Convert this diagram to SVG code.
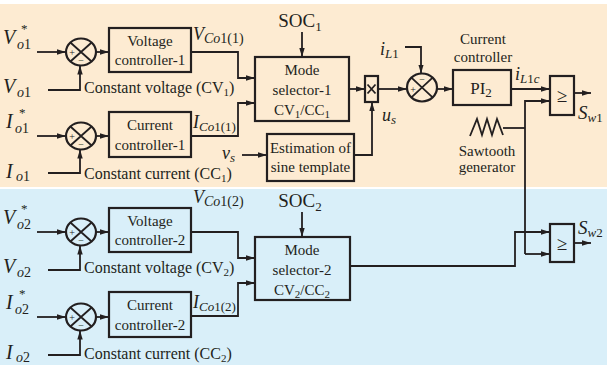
<svg xmlns="http://www.w3.org/2000/svg" width="607" height="365" viewBox="0 0 607 365">
<defs>
<marker id="ah" viewBox="0 0 10 6" refX="10" refY="3" markerWidth="9" markerHeight="6" markerUnits="userSpaceOnUse" orient="auto"><path d="M0,0 L10,3 L0,6 z" fill="#231f20"/></marker>
</defs>
<style>
.bx{fill:none;stroke:#231f20;stroke-width:2.2}
.ln{fill:none;stroke:#231f20;stroke-width:1.8}
.ar{marker-end:url(#ah)}
text{font-family:"Liberation Serif","Times New Roman",serif;fill:#231f20}
.t{font-size:16px}
.tc{font-size:15px;text-anchor:middle}
.v{font-size:20px}
.i{font-style:italic}
.sg{font-size:10px;text-anchor:middle}
.cmp{font-size:19px;text-anchor:middle}
</style>
<rect x="0" y="0" width="607" height="365" fill="#ffffff"/>
<rect x="0" y="4" width="607" height="183" fill="#fdebd2"/>
<rect x="0" y="189" width="607" height="176" fill="#d9eff9"/>

<g id="connectors">
<path class="ln ar" d="M37,52 H66"/>
<path class="ln ar" d="M48,90 H80 V65.5"/>
<path class="ln ar" d="M96,52 H109"/>
<path class="ln ar" d="M37,136 H66"/>
<path class="ln ar" d="M48,173 H80 V149.5"/>
<path class="ln ar" d="M96,136 H109"/>
<path class="ln ar" d="M191,52 H238 V78 H255"/>
<path class="ln ar" d="M191,136 H238 V103 H255"/>
<path class="ln ar" d="M302,32 V57"/>
<path class="ln ar" d="M349,89 H365"/>
<path class="ln ar" d="M242,155 H267"/>
<path class="ln ar" d="M354,155 H372 V102"/>
<path class="ln ar" d="M378,89 H407"/>
<path class="ln ar" d="M405,47 H421 V73.5"/>
<path class="ln ar" d="M437,89 H453"/>
<path class="ln ar" d="M511,89 H550"/>
<path class="ln ar" d="M525,254 V101 H550"/>
<path class="ln" d="M503,128 H525"/>
<path class="ln ar" d="M574,93 H591"/>
<path class="ln ar" d="M37,232 H66"/>
<path class="ln ar" d="M48,270 H80 V245.5"/>
<path class="ln ar" d="M96,232 H109"/>
<path class="ln ar" d="M37,317 H66"/>
<path class="ln ar" d="M48,355 H80 V330.5"/>
<path class="ln ar" d="M96,317 H109"/>
<path class="ln ar" d="M191,232 H238 V258 H255"/>
<path class="ln ar" d="M191,316 H238 V283 H255"/>
<path class="ln ar" d="M302,212 V237"/>
<path class="ln ar" d="M350,266 H515 V232 H550"/>
<path class="ln ar" d="M525,254 H550"/>
<path class="ln ar" d="M574,243 H591"/>
</g>

<g id="sum-v1">
<ellipse cx="81" cy="52" rx="15" ry="13.5" class="bx"/>
<path class="ln" d="M70.4,42.5 L91.6,61.5 M70.4,61.5 L91.6,42.5"/>
<text x="72" y="55.5" class="sg">+</text><text x="81" y="64" class="sg">−</text>
</g>
<g id="sum-i1">
<ellipse cx="81" cy="136" rx="15" ry="13.5" class="bx"/>
<path class="ln" d="M70.4,126.5 L91.6,145.5 M70.4,145.5 L91.6,126.5"/>
<text x="72" y="139.5" class="sg">+</text><text x="81" y="148" class="sg">−</text>
</g>
<g id="sum-v2">
<ellipse cx="81" cy="232" rx="15" ry="13.5" class="bx"/>
<path class="ln" d="M70.4,222.5 L91.6,241.5 M70.4,241.5 L91.6,222.5"/>
<text x="72" y="235.5" class="sg">+</text><text x="81" y="244" class="sg">−</text>
</g>
<g id="sum-i2">
<ellipse cx="81" cy="317" rx="15" ry="13.5" class="bx"/>
<path class="ln" d="M70.4,307.5 L91.6,326.5 M70.4,326.5 L91.6,307.5"/>
<text x="72" y="320.5" class="sg">+</text><text x="81" y="329" class="sg">−</text>
</g>
<g id="sum-il">
<ellipse cx="422" cy="87.5" rx="15" ry="14" class="bx"/>
<path class="ln" d="M411.4,77.6 L432.6,97.4 M411.4,97.4 L432.6,77.6"/>
<text x="413" y="93" class="sg">+</text><text x="422" y="83" class="sg">−</text>
</g>

<g id="vc1"><rect x="109" y="28" width="82" height="44" class="bx"/><text x="150" y="46" class="tc">Voltage</text><text x="150" y="65" class="tc">controller-1</text></g>
<g id="cc1"><rect x="109" y="112" width="82" height="45" class="bx"/><text x="150" y="130" class="tc">Current</text><text x="150" y="150" class="tc">controller-1</text></g>
<g id="vc2"><rect x="109" y="208" width="82" height="44" class="bx"/><text x="150" y="226" class="tc">Voltage</text><text x="150" y="245" class="tc">controller-2</text></g>
<g id="cc2"><rect x="109" y="292" width="82" height="45" class="bx"/><text x="150" y="310" class="tc">Current</text><text x="150" y="330" class="tc">controller-2</text></g>

<g id="mode1"><rect x="255" y="57" width="94" height="64" class="bx"/><text x="302" y="75" class="tc">Mode</text><text x="302" y="95" class="tc">selector-1</text><text x="302" y="115" class="tc">CV<tspan font-size="11" dy="3">1</tspan><tspan dy="-3">/CC</tspan><tspan font-size="11" dy="3">1</tspan></text></g>
<g id="mode2"><rect x="255" y="237" width="95" height="63" class="bx"/><text x="302" y="255" class="tc">Mode</text><text x="302" y="275" class="tc">selector-2</text><text x="302" y="295" class="tc">CV<tspan font-size="11" dy="3">2</tspan><tspan dy="-3">/CC</tspan><tspan font-size="11" dy="3">2</tspan></text></g>

<g id="soc1"><text x="300" y="27" font-size="19" text-anchor="middle">SOC<tspan font-size="13" dy="4">1</tspan></text></g>
<g id="soc2"><text x="300" y="207" font-size="19" text-anchor="middle">SOC<tspan font-size="13" dy="4">2</tspan></text></g>

<g id="mult"><rect x="365" y="76" width="13" height="26" class="bx"/><path class="ln" d="M367.5,84.5 L375.5,93.5 M367.5,93.5 L375.5,84.5" stroke-width="1.3"/></g>

<g id="est"><rect x="267" y="134" width="87" height="47" class="bx"/><text x="310.5" y="153" class="tc">Estimation of</text><text x="310.5" y="172" class="tc">sine template</text></g>

<g id="pi2"><text x="483" y="44" class="tc">Current</text><text x="483" y="62" class="tc">controller</text><rect x="453" y="70" width="58" height="35" class="bx"/><text x="481" y="94" font-size="17" text-anchor="middle">PI<tspan font-size="13" dy="3">2</tspan></text></g>

<g id="saw"><path class="ln" stroke-width="2.2" d="M470,136 L477,119 L482,135 L487,119 L492,135 L497,119 L503,135"/><text x="487" y="156" class="tc">Sawtooth</text><text x="487" y="172" class="tc">generator</text></g>

<g id="cmp1"><rect x="550" y="76" width="24" height="39" class="bx"/><text x="562" y="102" class="cmp">≥</text></g>
<g id="cmp2"><rect x="550" y="224" width="24" height="38" class="bx"/><text x="562" y="250" class="cmp">≥</text></g>

<g id="labels">
<text x="3" y="44" class="v i">V</text><text x="21" y="33" font-size="13">*</text><text x="17" y="49" font-size="14"><tspan class="i">o</tspan>1</text>
<text x="3" y="93" class="v i">V</text><text x="17" y="97" font-size="14"><tspan class="i">o</tspan>1</text>
<text x="84" y="93" class="t">Constant voltage (CV<tspan font-size="11" dy="3">1</tspan><tspan dy="-3">)</tspan></text>
<text x="6" y="128" class="v i">I</text><text x="19" y="117" font-size="13">*</text><text x="15" y="133" font-size="14"><tspan class="i">o</tspan>1</text>
<text x="6" y="178" class="v i">I</text><text x="16" y="181" font-size="14"><tspan class="i">o</tspan>1</text>
<text x="84" y="179" class="t">Constant current (CC<tspan font-size="11" dy="3">1</tspan><tspan dy="-3">)</tspan></text>
<text x="193" y="40" font-size="18"><tspan class="i">V</tspan><tspan font-size="14" dy="3"><tspan class="i">Co</tspan>1(1)</tspan></text>
<text x="193" y="128" font-size="18"><tspan class="i">I</tspan><tspan font-size="13" dy="3"><tspan class="i">Co</tspan>1(1)</tspan></text>
<text x="222" y="159" font-size="18" class="i">v<tspan font-size="13" dy="3">s</tspan></text>
<text x="382" y="121" font-size="18" class="i">u<tspan font-size="13" dy="3">s</tspan></text>
<text x="380" y="55" font-size="18"><tspan class="i">i</tspan><tspan font-size="13" dy="3"><tspan class="i">L</tspan>1</tspan></text>
<text x="515" y="80" font-size="18"><tspan class="i">i</tspan><tspan font-size="13" dy="3"><tspan class="i">L</tspan>1<tspan class="i">c</tspan></tspan></text>
<text x="578" y="119" font-size="19"><tspan class="i">S</tspan><tspan font-size="13" dy="3"><tspan class="i">w</tspan>1</tspan></text>

<text x="3" y="224" class="v i">V</text><text x="21" y="213" font-size="13">*</text><text x="17" y="229" font-size="14"><tspan class="i">o</tspan>2</text>
<text x="3" y="273" class="v i">V</text><text x="17" y="277" font-size="14"><tspan class="i">o</tspan>2</text>
<text x="84" y="273" class="t">Constant voltage (CV<tspan font-size="11" dy="3">2</tspan><tspan dy="-3">)</tspan></text>
<text x="6" y="309" class="v i">I</text><text x="19" y="298" font-size="13">*</text><text x="15" y="314" font-size="14"><tspan class="i">o</tspan>2</text>
<text x="6" y="359" class="v i">I</text><text x="16" y="362" font-size="14"><tspan class="i">o</tspan>2</text>
<text x="84" y="359" class="t">Constant current (CC<tspan font-size="11" dy="3">2</tspan><tspan dy="-3">)</tspan></text>
<text x="193" y="203" font-size="18"><tspan class="i">V</tspan><tspan font-size="14" dy="3"><tspan class="i">Co</tspan>1(2)</tspan></text>
<text x="193" y="308" font-size="18"><tspan class="i">I</tspan><tspan font-size="13" dy="3"><tspan class="i">Co</tspan>1(2)</tspan></text>
<text x="578" y="234" font-size="19"><tspan class="i">S</tspan><tspan font-size="13" dy="3"><tspan class="i">w</tspan>2</tspan></text>
</g>
</svg>
